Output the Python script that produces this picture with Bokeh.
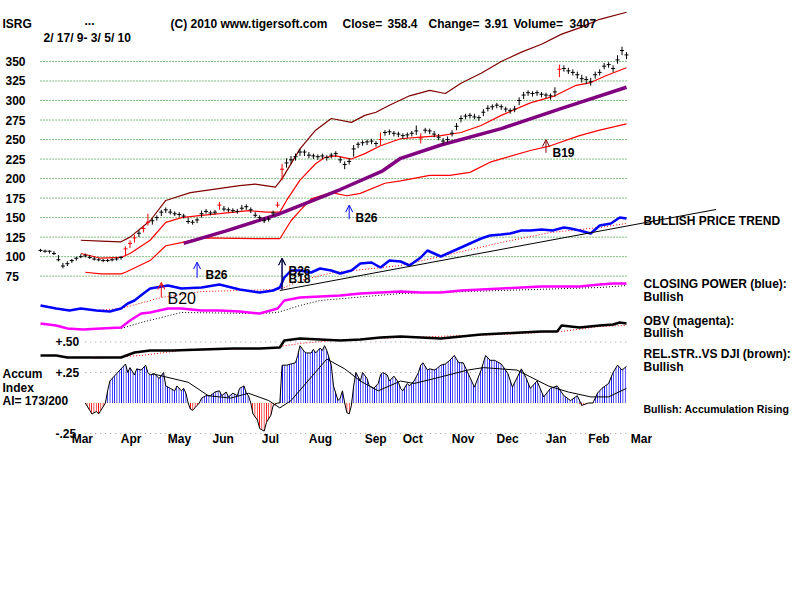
import numpy as np
from bokeh.plotting import figure
from bokeh.models import Range1d, Label, Arrow, OpenHead
from bokeh.embed import file_html
from bokeh.resources import INLINE
from bokeh.core.properties import value

# ---------------- ISRG daily bars, one bar every other session (2/17/09 - 3/5/10) ----------------
close = [108, 107, 107, 104, 96, 88, 91, 95, 98, 100,
         101, 99, 97, 96, 95, 95, 96, 97, 99, 110,
         117, 124, 130, 136, 144, 146, 150, 157, 160, 157,
         155, 154, 152, 145, 144, 147, 155, 158, 156, 157,
         166, 161, 160, 159, 158, 162, 164, 160, 153, 150,
         146, 148, 156, 166, 212, 220, 224, 228, 234, 234,
         230, 229, 228, 229, 227, 230, 232, 224, 218, 222,
         238, 244, 246, 247, 248, 245, 250, 259, 260, 258,
         257, 255, 256, 258, 261, 252, 262, 261, 257, 253,
         248, 250, 258, 267, 277, 280, 281, 279, 278, 285,
         290, 292, 294, 292, 289, 287, 289, 300, 307, 310,
         309, 310, 308, 307, 306, 311, 340, 341, 338, 336,
         333, 328, 327, 324, 333, 336, 344, 346, 341, 352,
         364, 358.4]
high = [110, 109, 108, 107, 102, 92, 94, 97, 100, 103,
        104, 102, 100, 98, 97, 97, 98, 99, 101, 113,
        121, 128, 134, 140, 155, 149, 153, 160, 163, 161,
        158, 157, 155, 150, 147, 150, 159, 161, 159, 160,
        170, 165, 163, 162, 161, 166, 167, 163, 157, 153,
        150, 151, 159, 170, 219, 226, 229, 232, 238, 237,
        234, 232, 231, 232, 230, 233, 235, 228, 222, 226,
        243, 247, 249, 250, 251, 248, 259, 262, 263, 261,
        260, 258, 259, 261, 268, 258, 265, 264, 261, 257,
        252, 254, 262, 271, 281, 283, 284, 283, 281, 289,
        294, 295, 297, 295, 292, 290, 293, 304, 311, 313,
        312, 313, 311, 310, 309, 317, 346, 345, 342, 340,
        337, 333, 331, 329, 337, 340, 348, 349, 345, 358,
        369, 362]
low = [106, 105, 104, 102, 94, 85, 88, 92, 95, 98,
       99, 97, 95, 94, 93, 93, 94, 95, 96, 102,
       111, 118, 125, 131, 140, 141, 146, 152, 156, 154,
       152, 151, 149, 142, 141, 143, 150, 155, 153, 154,
       160, 158, 157, 156, 155, 159, 160, 156, 150, 146,
       143, 145, 152, 163, 198, 214, 219, 223, 229, 229,
       226, 225, 224, 225, 223, 226, 228, 220, 212, 218,
       228, 239, 242, 243, 244, 241, 243, 255, 256, 254,
       253, 251, 252, 254, 256, 245, 258, 257, 253, 249,
       244, 246, 254, 262, 272, 276, 277, 276, 274, 280,
       286, 288, 290, 288, 285, 283, 285, 294, 302, 306,
       305, 306, 304, 303, 301, 305, 330, 337, 334, 332,
       328, 323, 321, 319, 328, 332, 340, 342, 336, 347,
       358, 353]
red_bars = [19, 20, 21, 23, 24, 40, 53, 54, 76, 85, 116]

# price grid and months
grid_levels = [350, 325, 300, 275, 250, 225, 200, 175, 150, 125, 100, 75]
month_names = ["Mar", "Apr", "May", "Jun", "Jul", "Aug", "Sep",
               "Oct", "Nov", "Dec", "Jan", "Feb", "Mar"]
month_start = [9, 31, 52, 72, 94, 115, 140, 157, 179, 199, 221, 240, 259]

# ---------------- bands and moving averages (session, price) ----------------
upper_x = [18, 27, 36, 40, 49, 56, 67, 89, 96, 105, 108, 116, 123, 130, 139, 145,
           150, 156, 165, 174, 181, 188, 197, 206, 215, 224, 233, 241, 250, 262]
upper_y = [121, 120, 119, 125, 146, 172, 182, 191, 193, 189, 200, 238, 262, 277, 272, 281,
           285, 294, 306, 313, 309, 322, 335, 350, 362, 372, 385, 393, 404, 413]
mid_x = [18, 27, 36, 40, 49, 56, 63, 72, 80, 93, 101, 107, 110, 116, 123, 127,
         132, 139, 145, 152, 161, 170, 179, 188, 197, 206, 219, 230, 239, 246, 253, 262]
mid_y = [104, 98, 99, 104, 121, 144, 150, 153, 155, 159, 157, 157, 172, 198, 219, 227,
         229, 225, 232, 242, 251, 253, 255, 259, 268, 281, 297, 306, 319, 323, 332, 342]
lower_x = [20, 27, 36, 38, 49, 56, 63, 72, 98, 107, 112, 116, 121, 130, 137, 143,
           154, 161, 174, 183, 192, 201, 219, 228, 241, 250, 262]
lower_y = [80, 78, 78, 80, 95, 114, 118, 124, 123, 123, 146, 159, 174, 182, 178, 181,
           194, 197, 204, 204, 208, 221, 236, 242, 255, 262, 270]
ma_x = [64, 83, 107, 134, 153, 161, 179, 206, 233, 262]
ma_y = [117, 133, 155, 186, 210, 226, 243, 264, 290, 317]

# ---------------- Closing Power ----------------
cp_x = [0, 7, 13, 18, 25, 31, 36, 39, 42, 46, 49, 57, 63, 72, 80, 89, 98, 104, 107,
        109, 112, 116, 121, 125, 130, 134, 139, 143, 148, 152, 156, 161, 165, 170, 173,
        176, 179, 183, 188, 192, 197, 201, 206, 210, 215, 219, 224, 229, 234, 237, 241,
        246, 250, 255, 259, 262]
cp_v = [7, 4, 2, 4, 2, 1, 4, 9, 12, 19, 24, 27, 24, 25, 28, 23, 20, 22, 25,
        35, 42, 42, 40, 44, 42, 39, 42, 49, 50, 45, 52, 51, 47, 55, 62,
        59, 56, 60, 65, 69, 74, 77, 78, 79, 82, 82, 83, 82, 85, 84, 82,
        79, 87, 89, 95, 94]
cp_ma_x = [24, 36, 54, 72, 107, 116, 131, 161, 206, 228, 250, 262]
cp_ma_v = [2, 4, 15, 21, 23, 32, 40, 47, 70, 80, 85, 89]
trend_x = [107, 302]
trend_v = [22, 103]

# ---------------- On-Balance Volume ----------------
obv_x = [0, 7, 12, 19, 27, 36, 40, 45, 49, 57, 63, 72, 80, 89, 98, 106, 109, 116,
         125, 134, 143, 152, 161, 170, 179, 188, 197, 206, 215, 224, 233, 241, 250, 256, 262]
obv_v = [7, 5, 2, 1, 2, 3, 10, 17, 18, 22, 22, 20, 20, 19, 17, 22, 30, 33,
         34, 35, 37, 38, 39, 38, 38, 40, 41, 42, 43, 44, 44, 44, 46, 47, 47]
obv_ma_x = [24, 36, 45, 63, 98, 106, 116, 125, 161, 206, 250, 262]
obv_ma_v = [2, 2, 8, 18, 17, 18, 25, 30, 37, 40, 43, 45]

# ---------------- Relative strength vs DJI ----------------
rs_x = [0, 7, 12, 22, 36, 42, 49, 59, 72, 86, 98, 107, 109, 116, 125, 134, 143, 152,
        161, 170, 179, 188, 197, 206, 215, 224, 231, 233, 241, 250, 256, 259, 262]
rs_v = [5, 5, 3, 3, 3, 8, 10, 10, 11, 12, 12, 13, 20, 22, 21, 20, 21, 23,
        24, 23, 22, 24, 26, 27, 28, 29, 29, 35, 33, 35, 36, 38, 37]
rs_ma_x = [24, 45, 63, 101, 116, 131, 161, 206, 233, 250, 262]
rs_ma_v = [2, 5, 10, 12, 17, 20, 23, 26, 29, 34, 35]

# ---------------- Accumulation Index ----------------
ai_x = [20, 22, 23, 25, 26, 27, 29, 30, 31, 34, 36, 38, 39, 40, 42, 43, 45, 47, 48, 49,
        51, 53, 55, 56, 58, 60, 61, 63, 64, 65, 66, 67, 68, 70, 71, 72, 74, 76, 78, 80,
        81, 83, 84, 86, 88, 89, 91, 92, 93, 94, 95, 97, 98, 100, 101, 103, 104, 106, 107, 108,
        110, 112, 114, 115, 116, 118, 119, 121, 122, 123, 125, 126, 127, 128, 130, 131, 133, 134, 135, 136,
        137, 138, 139, 140, 141, 143, 144, 146, 147, 149, 151, 152, 153, 155, 156, 158, 160, 161, 162, 164,
        165, 167, 169, 170, 171, 173, 174, 176, 177, 179, 181, 183, 185, 187, 189, 192, 194, 197, 199, 201,
        203, 206, 209, 211, 215, 217, 219, 222, 225, 228, 231, 234, 237, 240, 242, 245, 247, 249, 251, 254,
        256, 258, 260, 262]
ai = [0.00, -0.06, -0.09, -0.07, -0.09, -0.06, 0.00, 0.10, 0.18, 0.24, 0.28, 0.32, 0.25, 0.29, 0.23, 0.28, 0.27, 0.31, 0.25, 0.23,
      0.24, 0.20, 0.25, 0.14, 0.12, 0.10, 0.14, 0.10, 0.12, 0.08, 0.00, -0.05, -0.06, -0.02, 0.00, 0.04, 0.06, 0.06, 0.09, 0.10,
      0.06, 0.09, 0.05, 0.08, 0.06, 0.12, 0.14, 0.08, 0.06, 0.00, -0.09, -0.14, -0.21, -0.23, -0.16, -0.10, -0.02, 0.00, 0.00, 0.31,
      0.31, 0.32, 0.33, 0.39, 0.47, 0.42, 0.41, 0.41, 0.44, 0.41, 0.45, 0.43, 0.47, 0.43, 0.31, 0.14, 0.02, 0.04, 0.10, 0.00,
      -0.08, -0.09, -0.02, 0.14, 0.25, 0.18, 0.25, 0.20, 0.14, 0.12, 0.16, 0.23, 0.25, 0.23, 0.18, 0.22, 0.17, 0.12, 0.10, 0.16,
      0.14, 0.18, 0.25, 0.31, 0.33, 0.27, 0.28, 0.27, 0.28, 0.31, 0.32, 0.35, 0.39, 0.33, 0.33, 0.21, 0.13, 0.27, 0.39, 0.35,
      0.35, 0.32, 0.24, 0.13, 0.28, 0.21, 0.12, 0.18, 0.05, 0.12, 0.14, 0.06, 0.02, 0.06, -0.02, 0.00, 0.00, 0.08, 0.12, 0.16,
      0.25, 0.31, 0.27, 0.30]
ai_ma_x = [50, 66, 75, 85, 93, 102, 107, 112, 128, 136, 143, 151, 161, 167, 176, 191,
           198, 213, 227, 236, 246, 254, 262]
ai_ma = [0.24, 0.17, 0.06, 0.04, 0.08, 0.02, -0.04, 0.02, 0.36, 0.28, 0.18, 0.10, 0.18, 0.16, 0.20, 0.27,
         0.29, 0.27, 0.14, 0.09, 0.05, 0.05, 0.12]
ai_levels = [0.50, 0.25, -0.25]
ai_level_text = ["+.50", "+.25", "-.25"]

# ---------------- signals ----------------
signals = [("B20", 54, "#ff0000"), ("B26", 70, "#0000ff"), ("B26", 108, "#0000ff"),
           ("B18", 108, "#000000"), ("B26", 138, "#0000ff"), ("B19", 226, "#800000")]

FONT = "Liberation Sans"
n = len(close)
session = [2 * i for i in range(n)]

p = figure(width=800, height=600, x_range=Range1d(-17.9, 339.8), y_range=Range1d(-340.4, 428.1),
           min_border=0, x_axis_location=None, y_axis_location=None, toolbar_location=None,
           output_backend="svg", outline_line_color=None, background_fill_color="white",
           border_fill_color="white")
p.grid.visible = False
p.extra_x_ranges = {"layout": Range1d(0, 800)}
p.extra_y_ranges = {
    "layout": Range1d(600, 0),
    "cp": Range1d(-288, 312),
    "obv": Range1d(-270, 330),
    "rs": Range1d(-240, 360),
    "ai": Range1d(-1.6189, 3.2992),
}

# price grid lines and their labels
p.segment(x0=session[0], x1=session[-1], y0=grid_levels, y1=grid_levels,
          line_color="#008000", line_dash="1 2", line_width=1)
p.text(x=5, y=grid_levels, text=[str(v) for v in grid_levels], x_range_name="layout",
       text_font=value(FONT), text_font_style="bold", text_font_size="12px",
       text_baseline="middle", text_color="black")

# bands and long moving average
p.line(upper_x, upper_y, line_color="#800000", line_width=1.2)
p.line(mid_x, mid_y, line_color="#ff0000", line_width=1.2)
p.line(lower_x, lower_y, line_color="#ff0000", line_width=1.2)
p.line(ma_x, ma_y, line_color="#800080", line_width=3.5)

# HLC bars
bar_colors = ["#ff0000" if i in red_bars else "#000000" for i in range(n)]
p.segment(x0=session, x1=session, y0=low, y1=high, line_color=bar_colors, line_width=1)
p.segment(x0=[s - 0.9 for s in session], x1=[s + 0.9 for s in session], y0=close, y1=close,
          line_color=bar_colors, line_width=1)

# Closing Power, OBV, relative strength
p.line(cp_ma_x, cp_ma_v, y_range_name="cp", line_color="#ff0000", line_dash="1 2", line_width=1)
p.line(cp_x, cp_v, y_range_name="cp", line_color="#0000ff", line_width=2.5)
p.line(trend_x, trend_v, y_range_name="cp", line_color="black", line_width=1)
p.line(obv_ma_x, obv_ma_v, y_range_name="obv", line_color="black", line_dash="1 2", line_width=1)
p.line(obv_x, obv_v, y_range_name="obv", line_color="#ff00ff", line_width=2.5)
p.line(rs_ma_x, rs_ma_v, y_range_name="rs", line_color="#ff0000", line_dash="1 2", line_width=1)
p.line(rs_x, rs_v, y_range_name="rs", line_color="black", line_width=2.5)

# Accumulation Index
ai_arr = np.array(ai)
p.segment(x0=ai_x[0], x1=ai_x[-1], y0=ai_levels, y1=ai_levels, y_range_name="ai",
          line_color="#a09090", line_dash="1 4", line_width=1)
p.segment(x0=ai_x[0], x1=ai_x[-1], y0=0, y1=0, y_range_name="ai",
          line_color="#e8e890", line_dash="1 2", line_width=1)
p.varea(x=ai_x, y1=0, y2=np.maximum(ai_arr, 0), y_range_name="ai", fill_alpha=0,
        hatch_pattern="vertical_line", hatch_color="#0000ff", hatch_scale=2.3, hatch_weight=1.2)
p.varea(x=ai_x, y1=np.minimum(ai_arr, 0), y2=0, y_range_name="ai", fill_alpha=0,
        hatch_pattern="vertical_line", hatch_color="#ff0000", hatch_scale=2.3, hatch_weight=1.2)
p.line(ai_x, ai, y_range_name="ai", line_color="black", line_width=1)
p.line(ai_ma_x, ai_ma, y_range_name="ai", line_color="black", line_width=1)
p.text(x=55, y=ai_levels, text=ai_level_text, x_range_name="layout", y_range_name="ai",
       text_font=value(FONT), text_font_style="bold", text_font_size="12px",
       text_baseline="middle", text_color="black")

# month labels
p.text(x=month_start, y=438, text=month_names, y_range_name="layout", x_offset=11,
       text_font=value(FONT), text_font_style="bold", text_font_size="12px",
       text_baseline="middle", text_color="black")

# signal arrows
arrow_span = {54: (48, 67), 70: (73, 93), 108: (58, 98), 138: (148, 166), 226: (233, 250)}
for name, s, col in signals:
    y0, y1 = arrow_span[s]
    p.add_layout(Arrow(x_start=s, y_start=y0, x_end=s, y_end=y1, line_color=col, line_width=1,
                       end=OpenHead(size=7, line_color=col, line_width=1)))


def put(text, x, y, size="12px", style="bold"):
    p.add_layout(Label(x=x, y=y, x_range_name="layout", y_range_name="layout", text=text,
                       text_font=FONT, text_font_style=style, text_font_size=size,
                       text_baseline="middle", text_align="left", text_color="black"))


# header
put("ISRG", 2, 23)
put("...", 84, 20)
put("(C) 2010 www.tigersoft.com", 170, 23)
put("Close=", 342, 23)
put(f"{close[-1]:.1f}", 387, 23)
put("Change=", 428, 23)
put("3.91", 484, 23)
put("Volume=", 513, 23)
put("3407", 569, 23)
put("2/ 17/ 9- 3/ 5/ 10", 43, 37)

# signal names
put("B20", 167, 298, size="16px", style="normal")
put("B26", 205, 274)
put("B26", 288, 270)
put("B18", 288, 278)
put("B26", 355, 217)
put("B19", 552, 152)

# indicator captions
put("BULLISH PRICE TREND", 643, 220)
put("CLOSING POWER (blue):", 643, 283)
put("Bullish", 643, 296)
put("OBV (magenta):", 643, 320)
put("Bullish", 643, 332)
put("REL.STR..VS DJI (brown):", 643, 353)
put("Bullish", 643, 366)
put("Bullish: Accumulation Rising", 643, 408, size="10.5px")
put("Accum", 2, 373)
put("Index", 2, 387)
put("AI= 173/200", 2, 400)

open("out.html", "w").write(file_html(p, INLINE))
